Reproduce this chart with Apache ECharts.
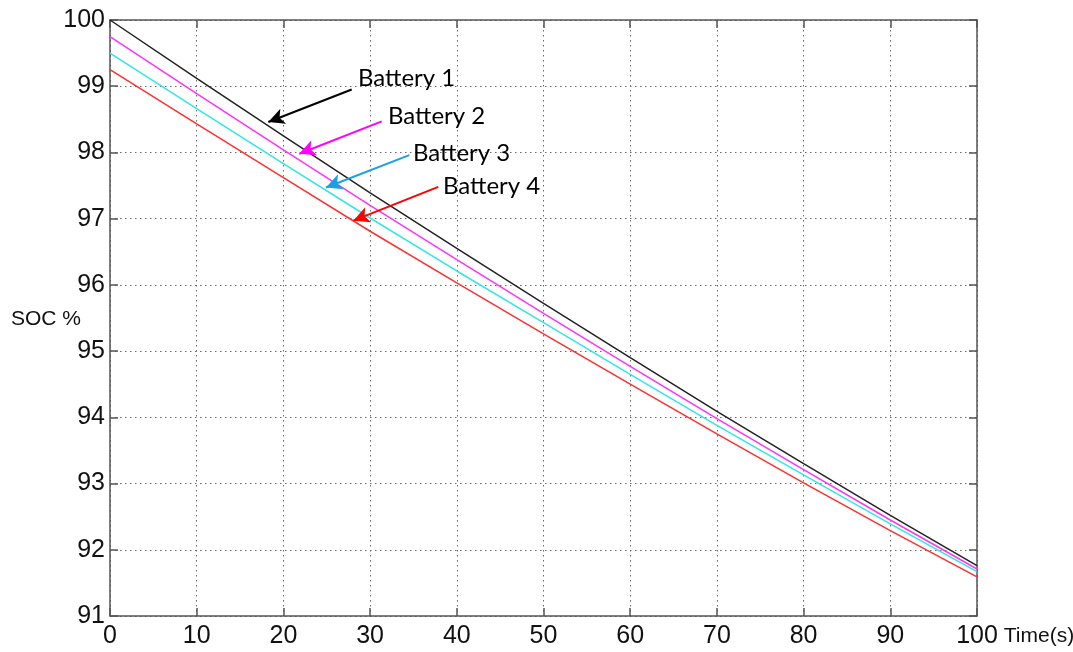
<!DOCTYPE html>
<html>
<head>
<meta charset="utf-8">
<script src="https://cdn.jsdelivr.net/npm/echarts@6/dist/echarts.min.js"></script>
<style>
html,body{margin:0;padding:0;background:#fff;}
#chart{width:1073px;height:652px;}
</style>
</head>
<body>
<div id="chart"></div>
<script>
// ---- data ----
var timeS = [0, 10, 20, 30, 40, 50, 60, 70, 80, 90, 100];
var battery1 = [100.00, 99.12, 98.25, 97.39, 96.55, 95.72, 94.90, 94.09, 93.30, 92.52, 91.76];
var battery2 = [99.75, 98.89, 98.04, 97.20, 96.38, 95.57, 94.77, 93.98, 93.21, 92.45, 91.71];
var battery3 = [99.50, 98.66, 97.83, 97.01, 96.21, 95.43, 94.65, 93.88, 93.13, 92.39, 91.67];
var battery4 = [99.25, 98.43, 97.62, 96.81, 96.03, 95.26, 94.50, 93.75, 93.01, 92.29, 91.59];
var seriesNames = ['Battery 1', 'Battery 2', 'Battery 3', 'Battery 4'];
var xTicks = [0, 10, 20, 30, 40, 50, 60, 70, 80, 90, 100];
var yTicks = [91, 92, 93, 94, 95, 96, 97, 98, 99, 100];
// annotation arrows (data coordinates): tail, tip, label anchor
var arrowTail = [[27.88, 98.95], [31.34, 98.47], [34.52, 97.96], [37.87, 97.48]];
var arrowTip  = [[18.26, 98.46], [21.83, 97.98], [24.91, 97.47], [28.06, 96.97]];
var labelAnchor = [[28.03, 99.12], [31.49, 98.55], [34.37, 97.99], [37.83, 97.49]];

var lineColors = ['#222222', '#ff33ff', '#33e6e6', '#ff3030'];
var arrowColors = ['#000000', '#ff00ff', '#1ba1e2', '#ff0000'];
var tickFont = '"Liberation Sans", Arial, sans-serif';
var annFont = 'Lato, Carlito, Calibri, "Open Sans", sans-serif';

function pairs(ys) { return timeS.map(function (t, i) { return [t, ys[i]]; }); }
var allData = [battery1, battery2, battery3, battery4];

var chart = echarts.init(document.getElementById('chart'));
var gridLine = { show: true, lineStyle: { color: '#6a6a6a', type: [1.5, 3.5], width: 1 } };
var boxLine = { show: true, onZero: false, lineStyle: { color: '#555', width: 1.5 } };
var inTick = { show: true, inside: true, length: 8, lineStyle: { color: '#555', width: 1.5 } };

var series = allData.map(function (ys, i) {
  return {
    name: seriesNames[i],
    type: 'line',
    data: pairs(ys),
    showSymbol: false,
    symbol: 'none',
    smooth: false,
    lineStyle: { color: lineColors[i], width: 1.5 },
    z: 3,
    markLine: {
      silent: true,
      symbol: ['none', 'arrow'],
      symbolSize: [12, 16],
      lineStyle: { color: arrowColors[i], width: 2, type: 'solid' },
      label: { show: false },
      data: [[{ coord: arrowTail[i] }, { coord: arrowTip[i] }]],
      animation: false
    },
    markPoint: {
      silent: true,
      symbol: 'circle',
      symbolSize: 0,
      data: [{ coord: labelAnchor[i] }],
      label: {
        show: true,
        position: 'right',
        distance: 5,
        formatter: seriesNames[i],
        color: '#000',
        fontFamily: annFont,
        fontSize: 24
      },
      animation: false
    }
  };
});

chart.setOption({
  animation: false,
  backgroundColor: '#fff',
  grid: { left: 110, right: 96, top: 20, bottom: 36, containLabel: false, outerBoundsMode: 'none' },
  xAxis: [{
    type: 'value', min: 0, max: 100, interval: 10,
    axisLine: boxLine, axisTick: inTick,
    splitLine: gridLine,
    axisLabel: { margin: 8, color: '#111', fontFamily: tickFont, fontSize: 25,
      formatter: function (v) { return xTicks.indexOf(v) >= 0 ? String(v) : ''; } },
    name: 'Time(s)', nameLocation: 'end', nameGap: 15,
    nameTextStyle: { color: '#111', fontFamily: tickFont, fontSize: 21, verticalAlign: 'top', align: 'left', padding: [10, 0, 0, 0] }
  }, {
    type: 'value', min: 0, max: 100, interval: 10, position: 'top',
    axisLine: boxLine, axisTick: inTick, splitLine: { show: false }, axisLabel: { show: false }
  }],
  yAxis: [{
    type: 'value', min: 91, max: 100, interval: 1,
    axisLine: boxLine, axisTick: inTick,
    splitLine: gridLine,
    axisLabel: { margin: 5, color: '#111', fontFamily: tickFont, fontSize: 25,
      formatter: function (v) { return yTicks.indexOf(v) >= 0 ? String(v) : ''; } }
  }, {
    type: 'value', min: 91, max: 100, interval: 1, position: 'right',
    axisLine: boxLine, axisTick: inTick, splitLine: { show: false }, axisLabel: { show: false }
  }],
  graphic: [{
    type: 'text', left: 11, top: 309,
    style: { text: 'SOC %', fill: '#111', font: '21px ' + tickFont }
  }],
  series: series
});
</script>
</body>
</html>
